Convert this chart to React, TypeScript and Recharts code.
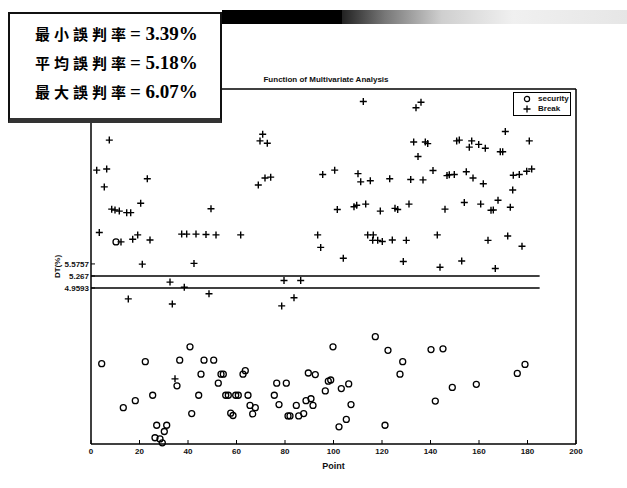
import React from 'react';
import { ScatterChart, Scatter, XAxis, YAxis, ReferenceLine } from 'recharts';

// ---- data ----
const securityPoint = [4.41, 10.31, 13.32, 18.27, 22.39, 25.44, 26.39, 27.09, 28.45, 29.4, 30.23, 31.22, 35.46, 36.58, 40.82, 41.53, 44.41, 45.36, 46.6, 50.6, 52.49, 53.61, 54.56, 55.55, 56.62, 57.61, 58.56, 59.67, 60.74, 62.68, 63.63, 64.74, 65.57, 66.68, 67.75, 75.59, 76.58, 77.53, 80.54, 81.24, 82.06, 84.66, 85.65, 87.71, 88.66, 89.61, 90.72, 91.55, 92.49, 96.62, 97.86, 98.85, 99.79, 102.27, 103.22, 105.28, 106.27, 107.22, 117.24, 121.24, 122.47, 127.42, 128.54, 140.21, 141.98, 145.15, 148.99, 158.89, 175.79, 178.97];
const securityValue = [3.02, 6.14, 1.89, 2.07, 3.07, 2.21, 1.12, 1.44, 1.09, 0.99, 1.28, 1.44, 2.45, 3.11, 3.45, 1.74, 2.21, 2.75, 3.11, 3.11, 2.52, 2.75, 2.75, 2.21, 2.21, 1.75, 1.69, 2.21, 2.21, 2.75, 2.84, 2.21, 1.95, 1.73, 1.89, 2.21, 2.52, 1.97, 2.52, 1.68, 1.68, 1.95, 1.68, 1.74, 2.07, 2.78, 2.12, 1.95, 2.74, 2.32, 2.57, 2.6, 3.45, 1.4, 2.38, 1.59, 2.5, 1.97, 3.71, 1.44, 3.36, 2.75, 3.07, 3.38, 2.06, 3.4, 2.41, 2.49, 2.77, 3.0];

const breakPoint = [2.35, 3.42, 5.48, 6.47, 7.55, 8.54, 9.9, 11.67, 14.72, 15.38, 16.37, 12.37, 17.2, 19.26, 20.49, 21.15, 23.22, 24.33, 32.58, 33.53, 34.64, 37.4, 38.47, 39.46, 42.47, 43.3, 47.42, 48.66, 49.48, 51.55, 61.73, 68.99, 69.69, 70.8, 72.7, 71.75, 74.1, 78.64, 79.59, 83.71, 86.47, 93.48, 94.72, 95.55, 100.49, 101.57, 104.04, 108.45, 109.57, 110.1, 111.22, 112.29, 113.28, 114.1, 115.18, 116.16, 116.41, 118.23, 119.3, 120.12, 123.18, 124.25, 125.36, 126.47, 128.78, 130.02, 131.13, 131.84, 133.07, 134.02, 134.85, 136.08, 136.91, 137.86, 138.85, 141.03, 142.8, 143.92, 145.98, 146.8, 147.75, 149.81, 150.8, 151.88, 152.87, 153.94, 154.76, 156.0, 156.99, 157.53, 159.88, 160.7, 161.77, 162.6, 163.71, 164.95, 165.9, 166.72, 167.84, 168.78, 169.77, 170.85, 171.84, 172.91, 173.9, 174.14, 176.62, 177.73, 179.67, 180.74, 181.73];
const breakValue = [7.98, 6.38, 7.55, 8.01, 8.75, 6.98, 6.96, 6.93, 6.89, 4.68, 6.89, 6.14, 6.21, 6.32, 7.13, 5.57, 7.76, 6.19, 5.11, 4.55, 2.63, 6.34, 4.98, 6.34, 5.59, 6.34, 6.33, 4.81, 6.99, 6.32, 6.32, 7.6, 8.73, 8.9, 8.67, 7.78, 7.8, 4.5, 5.15, 4.71, 5.15, 6.32, 6.0, 7.87, 7.98, 6.97, 5.72, 7.04, 7.08, 7.89, 7.68, 9.74, 7.11, 6.32, 7.71, 6.18, 6.32, 6.18, 6.93, 6.15, 7.76, 6.19, 7.0, 6.97, 5.64, 6.18, 7.11, 7.74, 8.7, 9.58, 8.33, 9.72, 7.73, 8.7, 8.66, 7.97, 6.32, 5.49, 6.98, 7.84, 7.86, 7.87, 8.73, 8.75, 5.65, 7.15, 7.94, 8.57, 8.73, 7.78, 8.64, 7.11, 7.63, 8.54, 6.18, 6.95, 6.96, 5.46, 7.21, 8.45, 8.45, 8.97, 6.29, 7.03, 7.47, 7.85, 7.87, 6.03, 7.95, 8.73, 8.01];

const xTicks = [0, 20, 40, 60, 80, 100, 120, 140, 160, 180, 200];
const yTicks = [4.9593, 5.267, 5.5757];
const yTickLabels = ['4.9593', '5.267', '5.5757'];
const thresholdLines = [5.267, 4.9593];
const lineEnd = 185;

const seriesNames = ['security', 'Break'];
const rateLabels = ['最小誤判率', '平均誤判率', '最大誤判率'];
const rateValues = ['3.39%', '5.18%', '6.07%'];
const chartTitle = 'Function of Multivariate Analysis';

const securityData = securityPoint.map((x, i) => ({ x, y: securityValue[i] }));
const breakData = breakPoint.map((x, i) => ({ x, y: breakValue[i] }));

const tickFont = { fontSize: 8, fontFamily: 'Liberation Sans, Arial, sans-serif', fontWeight: 700, fill: '#111' };

const CircleMark = (p: any) => (
  <circle cx={p.cx} cy={p.cy} r={3} fill="none" stroke="#000" strokeWidth={1.3} />
);
const PlusMark = (p: any) => (
  <path
    d={`M${p.cx - 3.5},${p.cy}H${p.cx + 3.5}M${p.cx},${p.cy - 3.5}V${p.cy + 3.5}`}
    stroke="#000"
    strokeWidth={1.4}
    fill="none"
  />
);

export default function App() {
  return (
    <div style={{ position: 'absolute', left: 0, top: 0, width: 627, height: 488, background: '#fff', overflow: 'hidden' }}>
      {/* window title bar */}
      <div style={{ position: 'absolute', left: 222, top: 10, width: 120, height: 14, background: '#000' }} />
      <div
        style={{
          position: 'absolute', left: 342, top: 10, width: 285, height: 14,
          background: 'linear-gradient(to right, #222 0%, #777 15%, #cfcfcf 35%, #f0f0f0 60%, #e6e6e6 100%)',
        }}
      />
      <div style={{ position: 'absolute', left: 0, top: 0 }}>
        <ScatterChart width={627} height={488} margin={{ top: 88, right: 50, left: 51, bottom: 14 }}>
          <XAxis
            xAxisId="b"
            type="number"
            dataKey="x"
            domain={[0, 200]}
            ticks={xTicks}
            interval={0}
            height={30}
            axisLine={{ stroke: '#000', strokeWidth: 1.5 }}
            tickLine={{ stroke: '#000' }}
            tickSize={-4}
            tickMargin={8}
            tick={tickFont}
            label={{ value: 'Point', position: 'insideBottom', offset: 5, style: { ...tickFont, fontSize: 9 } }}
          />
          <XAxis
            xAxisId="t"
            orientation="top"
            type="number"
            dataKey="x"
            domain={[0, 200]}
            ticks={xTicks}
            interval={0}
            height={1}
            axisLine={{ stroke: '#000', strokeWidth: 1.5 }}
            tickLine={{ stroke: '#000' }}
            tickSize={-4}
            tick={false}
          />
          <YAxis
            yAxisId="l"
            type="number"
            dataKey="y"
            domain={[0.96, 10.06]}
            ticks={yTicks}
            interval={0}
            width={40}
            axisLine={{ stroke: '#000', strokeWidth: 1.5 }}
            tickLine={{ stroke: '#000' }}
            tickSize={-4}
            tickMargin={6}
            tick={tickFont}
            tickFormatter={(v: number) => yTickLabels[yTicks.indexOf(v)] ?? String(v)}
            label={{ value: 'DT(%)', angle: -90, position: 'insideLeft', offset: 6, style: { ...tickFont, fontSize: 8, textAnchor: 'middle' } }}
          />
          <YAxis
            yAxisId="r"
            orientation="right"
            type="number"
            dataKey="y"
            domain={[0.96, 10.06]}
            ticks={yTicks}
            interval={0}
            width={1}
            axisLine={{ stroke: '#000', strokeWidth: 1.5 }}
            tickLine={{ stroke: '#000' }}
            tickSize={-4}
            tick={false}
          />
          {thresholdLines.map((v) => (
            <ReferenceLine
              key={v}
              xAxisId="b"
              yAxisId="l"
              segment={[{ x: 0, y: v }, { x: lineEnd, y: v }]}
              stroke="#000"
              strokeWidth={1.5}
            />
          ))}
          <Scatter
            name={seriesNames[0]}
            data={securityData}
            xAxisId="b"
            yAxisId="l"
            shape={CircleMark}
            isAnimationActive={false}
          />
          <Scatter
            name={seriesNames[1]}
            data={breakData}
            xAxisId="b"
            yAxisId="l"
            shape={PlusMark}
            isAnimationActive={false}
          />
        </ScatterChart>
      </div>

      {/* title */}
      <div
        style={{
          position: 'absolute', left: 226, top: 75, width: 200, textAlign: 'center',
          fontSize: 8, fontFamily: 'Liberation Sans, Arial, sans-serif', fontWeight: 700, color: '#111', lineHeight: '10px',
        }}
      >
        {chartTitle}
      </div>

      {/* legend */}
      <div
        style={{
          position: 'absolute', left: 513, top: 92, width: 56, height: 22, border: '1px solid #000', background: '#fff',
          fontSize: 8, fontFamily: 'Liberation Sans, Arial, sans-serif', fontWeight: 700, color: '#111',
        }}
      >
        {seriesNames.map((n, i) => (
          <div key={n} style={{ position: 'absolute', left: 0, top: 1 + i * 10, height: 10, width: 56, lineHeight: '10px' }}>
            <svg width={20} height={10} style={{ position: 'absolute', left: 6, top: 0 }}>
              {i === 0 ? (
                <circle cx={7} cy={5} r={2.6} fill="none" stroke="#000" strokeWidth={1.2} />
              ) : (
                <path d="M3.5,5H10.5M7,1.5V8.5" stroke="#000" strokeWidth={1.3} />
              )}
            </svg>
            <span style={{ position: 'absolute', left: 24 }}>{n}</span>
          </div>
        ))}
      </div>

      {/* error-rate box */}
      <div
        style={{
          position: 'absolute', left: 8, top: 12, width: 210, height: 99,
          border: '2px solid #111', borderBottom: '5px solid #333', background: '#fff',
          paddingTop: 5, boxSizing: 'content-box',
        }}
      >
        {rateLabels.map((l, i) => (
          <div key={l} style={{ height: 29, lineHeight: '29px', paddingLeft: 25, whiteSpace: 'nowrap', color: '#000' }}>
            <span style={{ fontFamily: '"Noto Sans CJK TC", sans-serif', fontWeight: 700, fontSize: 15, letterSpacing: 4 }}>{l}</span>
            <span style={{ fontFamily: '"Liberation Serif", "Times New Roman", serif', fontWeight: 700, fontSize: 19 }}>= {rateValues[i]}</span>
          </div>
        ))}
      </div>
    </div>
  );
}
